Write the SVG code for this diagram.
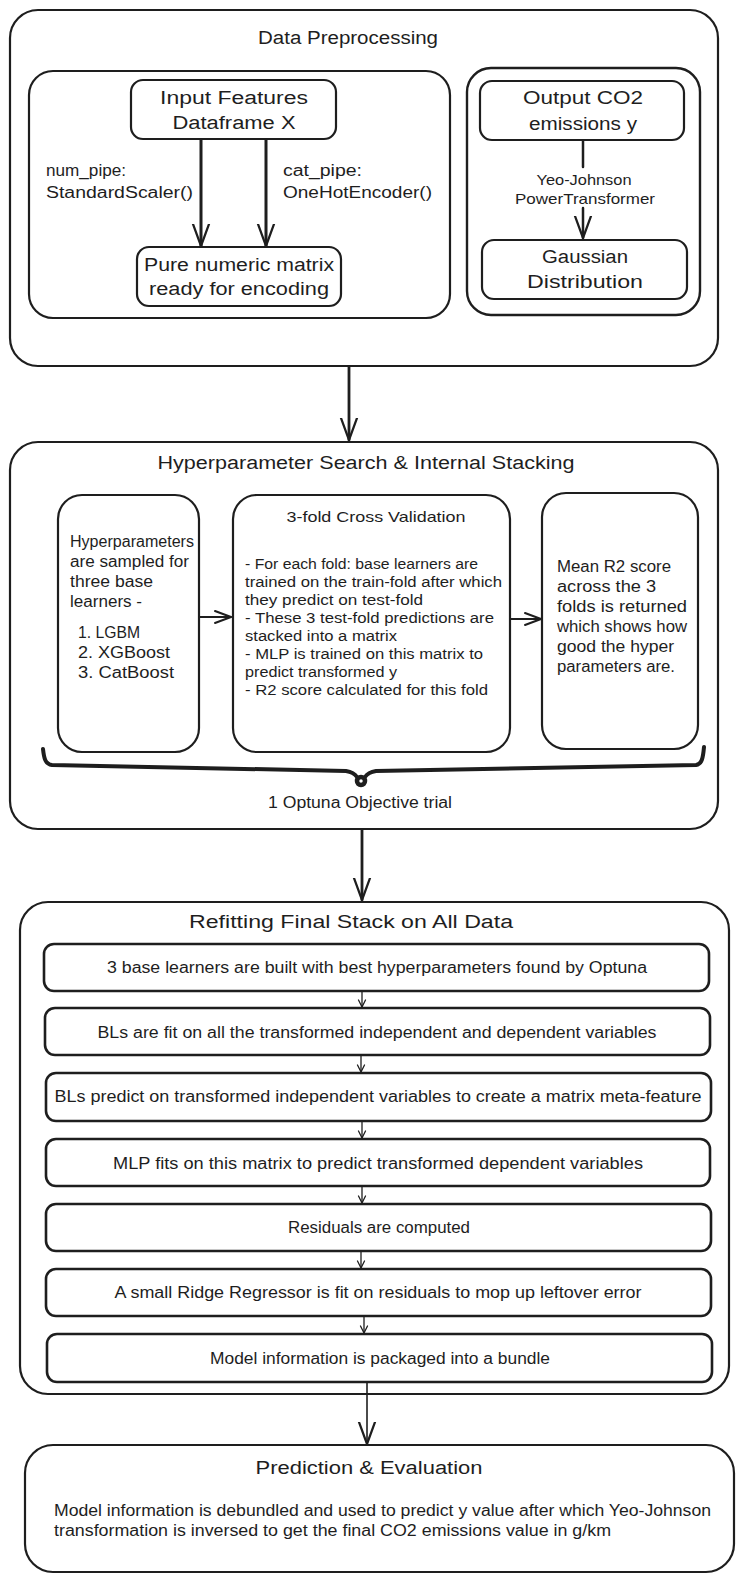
<svg xmlns="http://www.w3.org/2000/svg" width="742" height="1582" viewBox="0 0 742 1582">
<style>
.b{fill:#fff;stroke:#1e1e1e;stroke-width:2.2}
.bt{fill:#fff;stroke:#1e1e1e;stroke-width:2.6}
.t{font-family:"Liberation Sans",Arial,sans-serif;fill:#1e1e1e;dominant-baseline:central}
.c{text-anchor:middle}
.f18{font-size:18px}
.f16{font-size:16px}
.f15{font-size:15px}
.f14{font-size:14px}
.ln{fill:none;stroke:#1e1e1e;stroke-linecap:round;stroke-linejoin:round}
</style>
<defs>
<marker id="ab" markerUnits="userSpaceOnUse" markerWidth="24" markerHeight="24" viewBox="-22 -10 24 20" refX="0" refY="0" orient="auto"><path d="M-22,-8 L0,0 L-22,8" fill="none" stroke="#1e1e1e" stroke-width="2.2" stroke-linecap="round" stroke-linejoin="round"/></marker>
<marker id="am" markerUnits="userSpaceOnUse" markerWidth="20" markerHeight="20" viewBox="-18 -10 20 20" refX="0" refY="0" orient="auto"><path d="M-16,-6 L0,0 L-16,6" fill="none" stroke="#1e1e1e" stroke-width="2" stroke-linecap="round" stroke-linejoin="round"/></marker>
<marker id="as" markerUnits="userSpaceOnUse" markerWidth="10" markerHeight="10" viewBox="-9 -5 10 10" refX="0" refY="0" orient="auto"><path d="M-7,-3.5 L0,0 L-7,3.5" fill="none" stroke="#1e1e1e" stroke-width="1.3" stroke-linecap="round" stroke-linejoin="round"/></marker>
</defs>
<rect width="742" height="1582" fill="#fff"/>

<g id="data-preprocessing">
<rect class="b" x="10" y="10" width="708" height="356" rx="28"/>
<text class="t c f18" x="348" y="38" textLength="180" lengthAdjust="spacingAndGlyphs">Data Preprocessing</text>
</g>
<g id="feature-pipeline">
<rect class="b" x="29" y="71" width="421" height="247" rx="24"/>
</g>
<g id="input-features">
<rect class="b" x="131" y="80" width="205" height="59" rx="12"/>
<text class="t c f18" x="234" y="98" textLength="148" lengthAdjust="spacingAndGlyphs">Input Features</text>
<text class="t c f18" x="234" y="123" textLength="123" lengthAdjust="spacingAndGlyphs">Dataframe X</text>
</g>
<g id="numeric-matrix">
<rect class="b" x="137" y="247" width="204" height="59" rx="12"/>
<text class="t c f18" x="239" y="265" textLength="190" lengthAdjust="spacingAndGlyphs">Pure numeric matrix</text>
<text class="t c f18" x="239" y="289" textLength="180" lengthAdjust="spacingAndGlyphs">ready for encoding</text>
</g>
<g id="target-pipeline">
<rect class="b" x="467" y="68" width="233" height="247" rx="24" style="stroke-width:2.4"/>
</g>
<g id="output-co2">
<rect class="b" x="480" y="81" width="204" height="59" rx="12"/>
<text class="t c f18" x="583" y="98" textLength="120" lengthAdjust="spacingAndGlyphs">Output CO2</text>
<text class="t c f18" x="583" y="124" textLength="108" lengthAdjust="spacingAndGlyphs">emissions y</text>
</g>
<g id="gaussian">
<rect class="b" x="482" y="240" width="205" height="59" rx="12"/>
<text class="t c f18" x="585" y="257" textLength="86" lengthAdjust="spacingAndGlyphs">Gaussian</text>
<text class="t c f18" x="585" y="282" textLength="116" lengthAdjust="spacingAndGlyphs">Distribution</text>
</g>

<g id="hyperparameter-search">
<rect class="b" x="10" y="442" width="708" height="387" rx="28"/>
<text class="t c f18" x="366" y="463" textLength="417" lengthAdjust="spacingAndGlyphs">Hyperparameter Search &amp; Internal Stacking</text>
<text class="t c f16" x="360" y="802" textLength="184" lengthAdjust="spacingAndGlyphs">1 Optuna Objective trial</text>
</g>
<g id="sampling">
<rect class="b" x="58" y="495" width="141" height="257" rx="24"/>
<text class="t f16" x="70" y="541" textLength="124" lengthAdjust="spacingAndGlyphs">Hyperparameters</text>
<text class="t f16" x="70" y="561" textLength="119" lengthAdjust="spacingAndGlyphs">are sampled for</text>
<text class="t f16" x="70" y="581" textLength="83" lengthAdjust="spacingAndGlyphs">three base</text>
<text class="t f16" x="70" y="601" textLength="72" lengthAdjust="spacingAndGlyphs">learners -</text>
<text class="t f16" x="78" y="632" textLength="62" lengthAdjust="spacingAndGlyphs">1. LGBM</text>
<text class="t f16" x="78" y="652" textLength="92" lengthAdjust="spacingAndGlyphs">2. XGBoost</text>
<text class="t f16" x="78" y="672" textLength="96" lengthAdjust="spacingAndGlyphs">3. CatBoost</text>
</g>
<g id="cross-validation">
<rect class="b" x="233" y="495" width="277" height="257" rx="24"/>
<text class="t c f15" x="376" y="516" textLength="179" lengthAdjust="spacingAndGlyphs">3-fold Cross Validation</text>
<text class="t f14" x="245" y="564" textLength="233" lengthAdjust="spacingAndGlyphs">- For each fold: base learners are</text>
<text class="t f14" x="245" y="582" textLength="257" lengthAdjust="spacingAndGlyphs">trained on the train-fold after which</text>
<text class="t f14" x="245" y="600" textLength="178" lengthAdjust="spacingAndGlyphs">they predict on test-fold</text>
<text class="t f14" x="245" y="618" textLength="249" lengthAdjust="spacingAndGlyphs">- These 3 test-fold predictions are</text>
<text class="t f14" x="245" y="636" textLength="152" lengthAdjust="spacingAndGlyphs">stacked into a matrix</text>
<text class="t f14" x="245" y="654" textLength="238" lengthAdjust="spacingAndGlyphs">- MLP is trained on this matrix to</text>
<text class="t f14" x="245" y="672" textLength="152" lengthAdjust="spacingAndGlyphs">predict transformed y</text>
<text class="t f14" x="245" y="690" textLength="243" lengthAdjust="spacingAndGlyphs">- R2 score calculated for this fold</text>
</g>
<g id="mean-r2">
<rect class="b" x="542" y="493" width="156" height="256" rx="24"/>
<text class="t f16" x="557" y="566" textLength="114" lengthAdjust="spacingAndGlyphs">Mean R2 score</text>
<text class="t f16" x="557" y="586" textLength="99" lengthAdjust="spacingAndGlyphs">across the 3</text>
<text class="t f16" x="557" y="606" textLength="130" lengthAdjust="spacingAndGlyphs">folds is returned</text>
<text class="t f16" x="557" y="626" textLength="130" lengthAdjust="spacingAndGlyphs">which shows how</text>
<text class="t f16" x="557" y="646" textLength="117" lengthAdjust="spacingAndGlyphs">good the hyper</text>
<text class="t f16" x="557" y="666" textLength="118" lengthAdjust="spacingAndGlyphs">parameters are.</text>
</g>
<g id="trial-brace">
<path class="ln" stroke-width="4" d="M43,749 C44,758 45,764 52,765 L346,771 C352,772 355,774 357,777 M365,777 C367,774 370,772 376,771 L696,765 C702,764 703,758 704,747"/>
<circle cx="361" cy="781" r="4" fill="#fff" stroke="#1e1e1e" stroke-width="4.5"/>
</g>

<g id="refitting">
<rect class="b" x="20" y="902" width="709" height="492" rx="28"/>
<text class="t c f18" x="351" y="922" textLength="324" lengthAdjust="spacingAndGlyphs">Refitting Final Stack on All Data</text>
</g>
<g id="step-1">
<rect class="bt" x="44" y="944" width="665" height="47" rx="10"/>
<text class="t c f16" x="377" y="967" textLength="540" lengthAdjust="spacingAndGlyphs">3 base learners are built with best hyperparameters found by Optuna</text>
</g>
<g id="step-2">
<rect class="bt" x="45" y="1008" width="665" height="47" rx="10"/>
<text class="t c f16" x="377" y="1032" textLength="559" lengthAdjust="spacingAndGlyphs">BLs are fit on all the transformed independent and dependent variables</text>
</g>
<g id="step-3">
<rect class="bt" x="46" y="1073" width="665" height="48" rx="10"/>
<text class="t c f16" x="378" y="1096" textLength="647" lengthAdjust="spacingAndGlyphs">BLs predict on transformed independent variables to create a matrix meta-feature</text>
</g>
<g id="step-4">
<rect class="bt" x="46" y="1139" width="664" height="47" rx="10"/>
<text class="t c f16" x="378" y="1163" textLength="530" lengthAdjust="spacingAndGlyphs">MLP fits on this matrix to predict transformed dependent variables</text>
</g>
<g id="step-5">
<rect class="bt" x="46" y="1204" width="665" height="47" rx="10"/>
<text class="t c f16" x="379" y="1227" textLength="182" lengthAdjust="spacingAndGlyphs">Residuals are computed</text>
</g>
<g id="step-6">
<rect class="bt" x="46" y="1269" width="665" height="47" rx="10"/>
<text class="t c f16" x="378" y="1292" textLength="527" lengthAdjust="spacingAndGlyphs">A small Ridge Regressor is fit on residuals to mop up leftover error</text>
</g>
<g id="step-7">
<rect class="bt" x="47" y="1334" width="665" height="48" rx="10"/>
<text class="t c f16" x="380" y="1358" textLength="340" lengthAdjust="spacingAndGlyphs">Model information is packaged into a bundle</text>
</g>

<g id="prediction-evaluation">
<rect class="b" x="25" y="1445" width="709" height="127" rx="28"/>
<text class="t c f18" x="369" y="1468" textLength="227" lengthAdjust="spacingAndGlyphs">Prediction &amp; Evaluation</text>
<text class="t f16" x="54" y="1510" textLength="657" lengthAdjust="spacingAndGlyphs">Model information is debundled and used to predict y value after which Yeo-Johnson</text>
<text class="t f16" x="54" y="1530" textLength="557" lengthAdjust="spacingAndGlyphs">transformation is inversed to get the final CO2 emissions value in g/km</text>
</g>

<g id="connectors">
<path class="ln" stroke-width="3" d="M201,140 L201,246" marker-end="url(#ab)"/>
<path class="ln" stroke-width="3" d="M266,140 L266,246" marker-end="url(#ab)"/>
<text class="t f16" x="46" y="170" textLength="80" lengthAdjust="spacingAndGlyphs">num_pipe:</text>
<text class="t f16" x="46" y="192" textLength="147" lengthAdjust="spacingAndGlyphs">StandardScaler()</text>
<text class="t f16" x="283" y="170" textLength="79" lengthAdjust="spacingAndGlyphs">cat_pipe:</text>
<text class="t f16" x="283" y="192" textLength="149" lengthAdjust="spacingAndGlyphs">OneHotEncoder()</text>
<path class="ln" stroke-width="2.5" d="M583,141 L583,167"/>
<path class="ln" stroke-width="2.5" d="M583,208 L583,238" marker-end="url(#ab)"/>
<text class="t c f15" x="584" y="179" textLength="95" lengthAdjust="spacingAndGlyphs">Yeo-Johnson</text>
<text class="t c f15" x="585" y="198" textLength="140" lengthAdjust="spacingAndGlyphs">PowerTransformer</text>
<path class="ln" stroke-width="2.8" d="M349,367 L349,440" marker-end="url(#ab)"/>
<path class="ln" stroke-width="2" d="M199,617 L231,617" marker-end="url(#am)"/>
<path class="ln" stroke-width="2" d="M510,619 L541,619" marker-end="url(#am)"/>
<path class="ln" stroke-width="2.8" d="M362,830 L362,900" marker-end="url(#ab)"/>
<path class="ln" stroke-width="1.3" d="M362,992 L362,1007" marker-end="url(#as)"/>
<path class="ln" stroke-width="1.3" d="M361,1056 L361,1072" marker-end="url(#as)"/>
<path class="ln" stroke-width="1.3" d="M362,1122 L362,1138" marker-end="url(#as)"/>
<path class="ln" stroke-width="1.3" d="M362,1187 L362,1203" marker-end="url(#as)"/>
<path class="ln" stroke-width="1.3" d="M361,1252 L361,1268" marker-end="url(#as)"/>
<path class="ln" stroke-width="1.3" d="M364,1317 L364,1333" marker-end="url(#as)"/>
<path class="ln" stroke-width="1.6" d="M367,1383 L367,1444" marker-end="url(#ab)"/>
</g>
</svg>
